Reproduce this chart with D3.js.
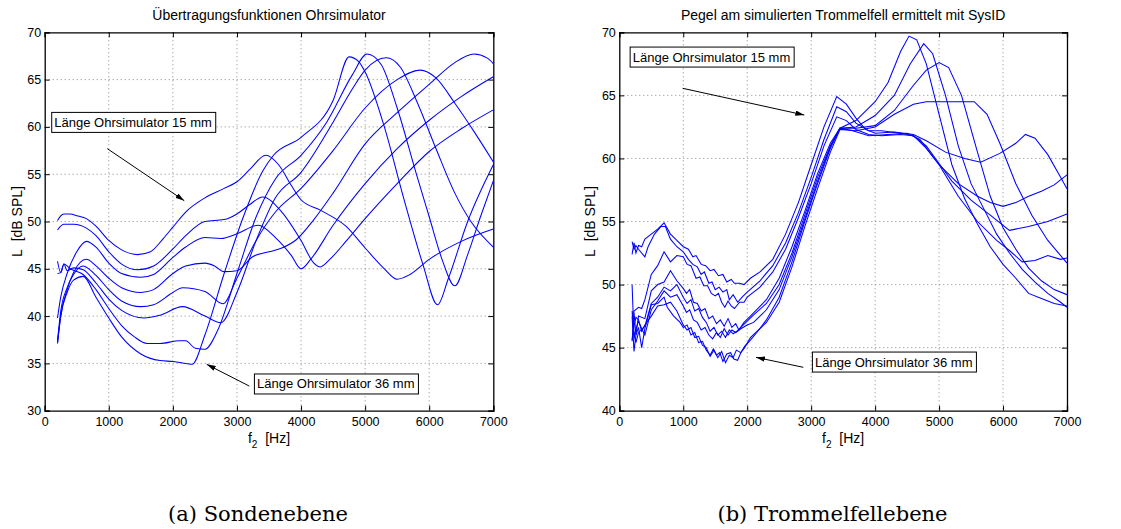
<!DOCTYPE html>
<html>
<head>
<meta charset="utf-8">
<script src="https://cdn.jsdelivr.net/npm/d3@7"></script>
<style>
  body { margin: 0; background: #fff; }
  svg { display: block; }
  .lbl { font-family: "Liberation Sans", Arial, Helvetica, sans-serif; fill: #000; }
  .cap { font-family: "DejaVu Serif", "Liberation Serif", serif; fill: #000; }
</style>
</head>
<body>
<svg id="chart" width="1121" height="529"></svg>
<script>
// ---------- tick values ----------
const xTicks = [0, 1000, 2000, 3000, 4000, 5000, 6000, 7000];
const yTicksSonde = [30, 35, 40, 45, 50, 55, 60, 65, 70];
const yTicksTrommel = [40, 45, 50, 55, 60, 65, 70];

// ---------- probe plane: [f2 in Hz, level in dB SPL] ----------
const sonde1 = [[200,50.1],[250,50.6],[300,50.8],[400,50.8],[500,50.6],[650,50.3],[800,49.5],[1000,48.0],[1200,47.0],[1450,46.5],[1650,46.8],[1850,48.2],[2000,49.4],[2200,51.0],[2500,52.5],[2800,53.5],[3000,54.2],[3200,55.5],[3450,57.0],[3650,56.0],[3850,53.8],[4000,52.3],[4300,51.2],[4700,49.5],[5000,47.2],[5300,45.0],[5500,43.9],[5700,44.4],[6000,46.0],[6500,47.9],[7000,49.2]];
const sonde2 = [[200,49.1],[300,49.7],[450,49.7],[650,49.3],[800,48.5],[1000,46.8],[1200,45.5],[1450,44.9],[1700,45.3],[2000,47.1],[2200,48.5],[2500,50.0],[2800,50.2],[3000,50.8],[3200,51.8],[3400,52.6],[3700,51.0],[4000,48.0],[4200,45.6],[4300,45.2],[4450,46.0],[4700,47.9],[5000,50.3],[5500,54.0],[6000,57.4],[6500,59.8],[7000,61.8]];
const sonde3 = [[200,39.8],[250,42.0],[350,44.5],[500,46.8],[650,47.9],[800,47.3],[1000,45.6],[1200,44.5],[1500,44.1],[1700,44.4],[2000,46.2],[2200,47.3],[2500,48.3],[2750,48.2],[3000,48.7],[3330,49.6],[3600,48.3],[3850,46.4],[4000,45.0],[4150,46.0],[4500,49.6],[5000,54.0],[5500,57.7],[6000,60.7],[6500,63.2],[7000,65.3]];
const sonde4 = [[200,37.1],[250,40.0],[350,42.8],[450,44.6],[650,46.0],[800,45.3],[1000,44.0],[1200,43.0],[1500,42.5],[1700,42.8],[2000,44.5],[2200,45.3],[2500,45.6],[2650,45.3],[2800,44.7],[3000,44.8],[3250,46.3],[3500,46.8],[3700,47.2],[3930,48.1],[4200,50.2],[4500,53.0],[5000,58.2],[5500,61.5],[6000,64.5],[6400,66.8],[6700,67.7],[6900,67.3],[7000,66.7]];
const sonde5 = [[200,37.4],[250,40.5],[350,43.0],[450,44.4],[600,45.3],[800,44.3],[1000,42.8],[1200,41.6],[1500,41.0],[1700,41.2],[2000,42.5],[2150,43.0],[2500,42.6],[2780,41.3],[3000,44.0],[3300,48.0],[3600,51.0],[4000,53.5],[4500,57.5],[5000,62.0],[5500,65.0],[5860,66.0],[6100,65.2],[6400,62.5],[6700,59.5],[7000,56.3]];
const sonde6 = [[200,45.8],[250,44.6],[300,45.5],[350,44.8],[450,45.1],[600,44.9],[800,43.5],[1000,41.8],[1200,40.6],[1550,39.8],[1800,40.1],[2150,41.0],[2500,40.0],[2750,39.3],[3000,42.5],[3300,48.0],[3600,52.5],[4000,55.2],[4500,60.5],[4800,64.0],[5000,66.0],[5330,67.3],[5550,66.3],[5800,62.8],[6100,57.8],[6400,53.0],[6650,50.0],[7000,47.3]];
const sonde7 = [[200,44.5],[250,44.6],[300,45.5],[400,45.0],[600,44.4],[800,42.8],[1000,40.8],[1200,39.0],[1400,37.8],[1600,37.1],[1800,37.1],[2100,37.4],[2200,37.4],[2350,36.6],[2500,36.5],[2700,38.5],[3000,44.5],[3300,50.5],[3600,54.5],[4000,57.0],[4400,60.5],[4800,65.5],[5030,67.7],[5250,66.6],[5500,62.0],[5800,55.0],[6000,50.5],[6200,46.0],[6400,43.2],[6600,46.5],[6800,50.5],[7000,54.3]];
const sonde8 = [[200,37.2],[250,40.0],[350,42.5],[450,43.8],[600,44.2],[800,42.0],[1000,39.8],[1200,37.8],[1500,36.0],[1800,35.3],[2000,35.2],[2200,35.0],[2300,34.9],[2500,38.0],[2800,44.5],[3100,50.5],[3400,55.3],[3570,57.0],[4000,58.9],[4500,62.8],[4750,67.4],[4900,66.9],[5000,65.8],[5300,60.0],[5600,52.5],[5900,45.5],[6130,41.2],[6300,44.0],[6600,50.0],[7000,56.0]];

// ---------- eardrum plane (SysID): [f2 in Hz, level in dB SPL] ----------
const trommel1 = [[200,52.4],[230,53.3],[260,52.5],[300,53.1],[350,53.0],[400,53.6],[500,54.0],[600,54.4],[700,54.9],[800,54.0],[900,53.5],[1000,53.0],[1080,52.8],[1150,52.2],[1200,52.3],[1280,51.6],[1350,51.5],[1420,51.1],[1480,51.2],[1550,50.7],[1620,50.8],[1680,50.2],[1750,50.4],[1800,50.1],[1880,50.1],[1950,50.0],[2050,50.5],[2200,51.0],[2400,52.0],[2600,54.0],[2800,56.5],[3000,59.5],[3200,62.5],[3400,64.9],[3550,64.3],[3700,63.2],[3850,62.3],[4000,62.0],[4300,62.1],[4600,61.9],[4800,61.4],[5100,60.5],[5400,60.0],[5650,59.7],[5950,60.4],[6200,61.2],[6350,61.9],[6500,61.6],[6700,60.3],[6900,58.5],[7000,57.6]];
const trommel2 = [[200,53.4],[230,52.8],[260,53.1],[300,52.8],[400,52.2],[450,53.0],[550,54.0],[650,54.6],[720,54.6],[800,53.6],[900,53.0],[1000,52.6],[1080,52.0],[1150,51.6],[1220,51.4],[1280,50.8],[1330,51.0],[1400,50.1],[1450,50.2],[1500,49.6],[1560,49.8],[1620,49.4],[1680,49.6],[1720,48.8],[1780,49.2],[1850,48.6],[1920,49.0],[2000,49.4],[2200,50.3],[2400,51.5],[2600,53.3],[2800,55.7],[3000,58.5],[3200,61.5],[3400,64.1],[3550,63.7],[3700,62.8],[3900,62.2],[4100,62.2],[4400,62.0],[4600,61.8],[4800,60.8],[5000,59.5],[5300,58.0],[5600,57.0],[5800,56.5],[6000,56.2],[6200,56.5],[6400,57.0],[6600,57.4],[6800,57.9],[7000,58.7]];
const trommel3 = [[200,47.6],[230,47.9],[300,48.2],[350,48.1],[400,48.8],[500,50.8],[600,51.5],[700,52.6],[800,51.8],[900,52.3],[1000,52.2],[1060,51.6],[1120,51.5],[1200,50.5],[1260,50.6],[1320,49.9],[1380,49.9],[1440,49.3],[1500,49.1],[1550,49.3],[1600,48.6],[1650,48.2],[1700,48.7],[1750,48.3],[1800,48.1],[1880,48.6],[1950,48.6],[2000,49.0],[2200,49.8],[2400,51.0],[2600,52.8],[2800,55.3],[3000,58.0],[3200,61.0],[3400,63.3],[3550,63.0],[3700,62.3],[3900,61.9],[4100,61.8],[4400,61.9],[4600,61.8],[4800,61.0],[5000,59.6],[5200,58.2],[5500,56.7],[5800,55.5],[6100,54.3],[6400,54.6],[6700,55.0],[7000,55.6]];
const trommel4 = [[200,45.5],[230,47.8],[260,46.0],[300,47.5],[400,47.3],[500,49.5],[600,50.0],[700,50.2],[800,51.1],[900,50.3],[1000,49.7],[1050,49.3],[1100,49.6],[1160,48.6],[1220,48.5],[1280,47.9],[1340,48.1],[1400,47.3],[1460,47.5],[1520,46.9],[1580,47.2],[1640,46.7],[1700,47.3],[1760,46.6],[1820,46.9],[1870,46.4],[1950,47.0],[2050,47.5],[2300,48.8],[2500,50.5],[2700,53.0],[2900,55.8],[3100,58.8],[3300,61.2],[3450,62.4],[3650,62.2],[3900,61.8],[4200,61.9],[4500,62.0],[4700,61.5],[5000,59.5],[5300,57.0],[5600,55.0],[5900,53.5],[6100,52.7],[6300,51.8],[6500,51.9],[6700,52.3],[6900,52.0],[7000,52.1]];
const trommel5 = [[200,47.9],[230,46.0],[260,45.4],[300,46.2],[400,46.7],[500,48.5],[600,49.0],[700,49.8],[800,49.5],[900,50.0],[1000,49.0],[1060,48.5],[1120,48.8],[1180,47.9],[1240,48.1],[1300,47.4],[1360,47.0],[1420,46.3],[1480,46.6],[1540,46.0],[1600,46.3],[1660,45.8],[1720,46.4],[1780,46.1],[1840,46.3],[1900,46.6],[2000,47.1],[2100,47.6],[2300,48.5],[2500,50.0],[2700,52.5],[2900,55.5],[3100,58.5],[3300,61.0],[3450,62.4],[3700,63.0],[4000,64.5],[4200,66.0],[4400,68.5],[4530,69.7],[4650,69.4],[4800,67.5],[5000,63.5],[5200,59.5],[5400,56.8],[5600,54.8],[5800,53.0],[6000,51.6],[6200,50.5],[6400,49.3],[6600,48.9],[6800,48.5],[7000,48.3]];
const trommel6 = [[200,50.0],[230,45.8],[260,46.5],[300,47.1],[350,46.5],[400,46.0],[500,48.0],[600,48.7],[700,49.5],[800,49.0],[900,49.2],[1000,48.3],[1050,47.8],[1100,48.0],[1160,47.2],[1220,47.0],[1280,46.4],[1340,46.6],[1400,46.0],[1460,45.7],[1520,46.2],[1580,45.8],[1640,46.5],[1700,46.0],[1760,46.4],[1820,46.2],[1900,46.5],[2000,46.8],[2100,47.0],[2300,48.0],[2500,49.6],[2700,52.2],[2900,55.2],[3100,58.2],[3300,60.9],[3450,62.4],[3700,62.5],[4000,63.4],[4300,65.0],[4550,67.5],[4760,69.1],[4900,68.3],[5100,65.0],[5300,61.0],[5500,58.0],[5700,56.0],[5900,54.0],[6100,52.5],[6300,51.2],[6500,50.2],[6700,49.3],[6900,48.6],[7000,48.2]];
const trommel7 = [[200,47.5],[230,44.7],[260,46.0],[300,46.6],[350,45.0],[400,46.5],[500,48.4],[600,48.5],[700,49.0],[750,48.2],[850,47.5],[950,47.0],[1000,46.6],[1060,46.8],[1120,46.0],[1180,46.2],[1240,45.4],[1300,45.5],[1360,44.8],[1420,44.4],[1470,44.9],[1520,44.4],[1570,44.6],[1620,43.9],[1680,44.5],[1740,44.6],[1790,44.1],[1850,44.0],[1900,44.6],[1960,45.1],[2050,45.6],[2150,46.2],[2300,47.2],[2500,49.0],[2700,51.8],[2900,55.0],[3100,58.0],[3300,60.8],[3450,62.4],[3700,62.4],[4000,62.6],[4300,63.8],[4600,65.8],[4800,67.0],[5000,67.6],[5150,67.2],[5350,65.0],[5600,60.5],[5800,57.0],[6000,54.5],[6200,52.8],[6400,51.3],[6600,50.3],[6800,49.6],[7000,49.2]];
const trommel8 = [[200,45.6],[230,46.7],[260,47.4],[300,47.2],[350,46.3],[400,46.8],[500,47.5],[600,48.3],[700,48.4],[800,48.6],[900,47.9],[1000,46.8],[1060,46.4],[1120,46.6],[1180,45.8],[1240,45.9],[1300,45.2],[1360,45.0],[1420,44.3],[1480,44.8],[1540,44.2],[1600,44.7],[1660,43.8],[1720,44.4],[1780,44.2],[1830,44.8],[1900,44.6],[1960,45.0],[2050,45.8],[2300,47.0],[2500,48.6],[2700,51.4],[2900,54.6],[3100,57.6],[3300,60.5],[3450,62.3],[3700,62.2],[4000,62.5],[4300,63.5],[4600,64.3],[4800,64.5],[5200,64.5],[5550,64.5],[5750,63.5],[5950,61.2],[6200,58.0],[6450,55.5],[6700,53.5],[7000,51.7]];

// ---------- texts ----------
const titleSonde = "Übertragungsfunktionen Ohrsimulator";
const titleTrommel = "Pegel am simulierten Trommelfell ermittelt mit SysID";
const captionSonde = "(a) Sondenebene";
const captionTrommel = "(b) Trommelfellebene";
const label15 = "Länge Ohrsimulator 15 mm";
const label36 = "Länge Ohrsimulator 36 mm";

// annotation anchors in data units: text start, arrow tail, arrow head
const notesSonde = [
  { text: label15, at: [150, 60.0], from: [977, 57.7], to: [2178, 52.2] },
  { text: label36, at: [3313, 32.35], from: [3193, 32.6], to: [2528, 34.9] }
];
const notesTrommel = [
  { text: label15, at: [210, 67.68], from: [991, 65.56], to: [2893, 63.44] },
  { text: label36, at: [3060, 43.5], from: [2877, 43.44], to: [2137, 44.23] }
];

const svg = d3.select("#chart");

svg.append("defs").append("marker")
  .attr("id", "head")
  .attr("viewBox", "0 0 10 6")
  .attr("refX", 10).attr("refY", 3)
  .attr("markerWidth", 9).attr("markerHeight", 5.4)
  .attr("markerUnits", "userSpaceOnUse")
  .attr("orient", "auto")
  .append("path").attr("d", "M0,0 L10,3 L0,6 Z").attr("fill", "#000");

function drawPanel(cfg) {
  const x = d3.scaleLinear().domain([0, 7000]).range([cfg.left, cfg.right]);
  const y = d3.scaleLinear().domain(cfg.yDomain).range([cfg.bottom, cfg.top]);
  const g = svg.append("g");

  // dotted grid
  g.append("g").selectAll("line").data(xTicks.slice(1, -1)).join("line")
    .attr("x1", d => x(d)).attr("x2", d => x(d))
    .attr("y1", cfg.top).attr("y2", cfg.bottom)
    .attr("stroke", "#7a7a7a").attr("stroke-width", 0.9).attr("stroke-dasharray", "1,3");
  g.append("g").selectAll("line").data(cfg.yTicks.slice(1, -1)).join("line")
    .attr("x1", cfg.left).attr("x2", cfg.right)
    .attr("y1", d => y(d)).attr("y2", d => y(d))
    .attr("stroke", "#7a7a7a").attr("stroke-width", 0.9).attr("stroke-dasharray", "1,3");

  // curves
  const clipId = "clip" + cfg.id;
  svg.select("defs").append("clipPath").attr("id", clipId)
    .append("rect").attr("x", cfg.left).attr("y", cfg.top)
    .attr("width", cfg.right - cfg.left).attr("height", cfg.bottom - cfg.top);
  const line = d3.line().x(d => x(d[0])).y(d => y(d[1])).curve(cfg.curve);
  g.append("g").attr("clip-path", `url(#${clipId})`)
    .selectAll("path").data(cfg.series).join("path")
    .attr("d", line).attr("fill", "none")
    .attr("stroke", "#0000ff").attr("stroke-width", 1.05);

  // axes with inward ticks on all four sides
  const tl = 5;
  g.append("g").attr("transform", `translate(0,${cfg.bottom})`)
    .call(d3.axisBottom(x).tickValues(xTicks).tickSize(-tl).tickPadding(6).tickFormat(d3.format("d")));
  g.append("g").attr("transform", `translate(0,${cfg.top})`)
    .call(d3.axisTop(x).tickValues(xTicks).tickSize(-tl).tickFormat(""));
  g.append("g").attr("transform", `translate(${cfg.left},0)`)
    .call(d3.axisLeft(y).tickValues(cfg.yTicks).tickSize(-tl).tickPadding(3.5).tickFormat(d3.format("d")));
  g.append("g").attr("transform", `translate(${cfg.right},0)`)
    .call(d3.axisRight(y).tickValues(cfg.yTicks).tickSize(-tl).tickFormat(""));
  g.selectAll(".domain").attr("stroke", "#000").attr("stroke-width", 1.3);
  g.selectAll(".tick line").attr("stroke", "#000").attr("stroke-width", 1);
  g.selectAll(".tick text").attr("class", "lbl").style("font-size", "12.5px")
    .style("font-family", '"Liberation Sans", Arial, sans-serif');

  const cx = (cfg.left + cfg.right) / 2;
  // title
  g.append("text").attr("class", "lbl").attr("x", cx).attr("y", 19.5)
    .attr("text-anchor", "middle").style("font-size", "14px").text(cfg.title);
  // x label with subscript
  const xl = g.append("text").attr("class", "lbl").attr("x", cx).attr("y", 443)
    .attr("text-anchor", "middle").style("font-size", "14px");
  xl.append("tspan").text("f");
  xl.append("tspan").attr("dy", 4.5).style("font-size", "10px").text("2");
  xl.append("tspan").attr("dy", -4.5).text("\u00a0 [Hz]");
  // y label
  g.append("text").attr("class", "lbl")
    .attr("transform", `translate(${cfg.ylabelX},${(cfg.top + cfg.bottom) / 2}) rotate(-90)`)
    .attr("text-anchor", "middle").style("font-size", "14px").text("L\u00a0 [dB SPL]");
  // caption
  g.append("text").attr("class", "cap").attr("x", cfg.captionX).attr("y", 521)
    .attr("text-anchor", "middle").style("font-size", "21px").text(cfg.caption);

  // annotations
  cfg.notes.forEach(n => {
    g.append("line")
      .attr("x1", x(n.from[0])).attr("y1", y(n.from[1]))
      .attr("x2", x(n.to[0])).attr("y2", y(n.to[1]))
      .attr("stroke", "#000").attr("stroke-width", 1)
      .attr("marker-end", "url(#head)");
    const t = g.append("text").attr("class", "lbl")
      .attr("x", x(n.at[0])).attr("y", y(n.at[1]))
      .style("font-size", "13px").text(n.text);
    const bb = t.node().getBBox();
    g.insert("rect", () => t.node())
      .attr("x", bb.x - 2.6).attr("y", bb.y - 2.5)
      .attr("width", bb.width + 6.5).attr("height", bb.height + 5)
      .attr("fill", "#fff").attr("stroke", "#000").attr("stroke-width", 1);
  });
}

drawPanel({
  id: "A", left: 44.7, right: 493.3, top: 32.3, bottom: 410.7,
  yDomain: [30, 70], yTicks: yTicksSonde,
  series: [sonde1, sonde2, sonde3, sonde4, sonde5, sonde6, sonde7, sonde8],
  curve: d3.curveMonotoneX,
  title: titleSonde, caption: captionSonde, captionX: 258, ylabelX: 21.5,
  notes: notesSonde
});
drawPanel({
  id: "B", left: 619.3, right: 1067, top: 32.3, bottom: 410.7,
  yDomain: [40, 70], yTicks: yTicksTrommel,
  series: [trommel1, trommel2, trommel3, trommel4, trommel5, trommel6, trommel7, trommel8],
  curve: d3.curveLinear,
  title: titleTrommel, caption: captionTrommel, captionX: 832.5, ylabelX: 595,
  notes: notesTrommel
});
</script>
</body>
</html>
